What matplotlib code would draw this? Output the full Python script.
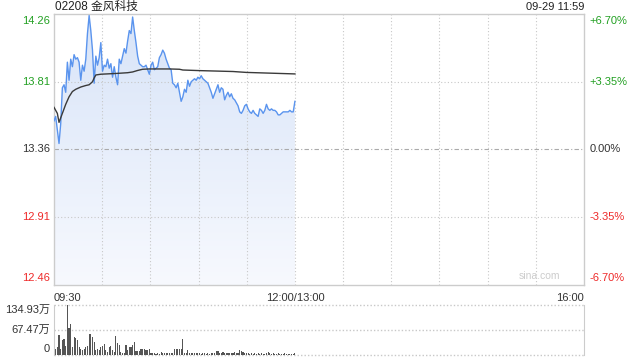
import numpy as np
import matplotlib
matplotlib.use('Agg')
import matplotlib.pyplot as plt

plt.rcParams['font.family'] = ['Liberation Sans', 'Noto Sans CJK SC', 'DejaVu Sans']

# Data
title = '02208 金风科技'
stamp = '09-29 11:59'
prev_close = 13.36
price_ticks = [14.26, 13.81, 13.36, 12.91, 12.46]
pct_labels = ['+6.70%', '+3.35%', '0.00%', '-3.35%', '-6.70%']
time_labels = ['09:30', '12:00/13:00', '16:00']
vol_labels = ['134.93万', '67.47万', '0']
vol_max = 134.93

prices = [
    13.55, 13.58, 13.49, 13.40, 13.53, 13.77, 13.79, 13.74, 13.94, 13.82,
    13.96, 13.91, 13.99, 13.96, 13.97, 13.94, 13.82, 13.92, 13.88, 13.96,
    14.13, 14.25, 14.15, 14.02, 13.80, 13.98, 13.92, 13.97, 14.07, 13.88,
    13.92, 13.91, 13.96, 13.90, 13.93, 13.84, 13.91, 13.84, 13.79, 13.96,
    13.93, 13.98, 14.03, 14.00, 14.08, 14.15, 14.13, 14.24, 14.15, 14.07,
    13.98, 13.93, 13.92, 13.91, 13.91, 13.92, 13.89, 13.86, 13.92, 13.94,
    13.89, 13.90, 13.91, 13.97, 13.99, 14.02, 14.00, 13.96, 13.93, 13.90,
    13.89, 13.80, 13.79, 13.77, 13.80, 13.74, 13.68, 13.71, 13.76, 13.74,
    13.82, 13.78, 13.81, 13.82, 13.83, 13.82, 13.84, 13.83, 13.85, 13.83,
    13.82, 13.81, 13.80, 13.77, 13.74, 13.70, 13.73, 13.76, 13.79, 13.74,
    13.77, 13.76, 13.69, 13.72, 13.74, 13.71, 13.73, 13.70, 13.69, 13.67,
    13.65, 13.61, 13.60, 13.62, 13.65, 13.66, 13.63, 13.61, 13.60, 13.62,
    13.60, 13.59, 13.58, 13.63, 13.62, 13.60, 13.62, 13.66, 13.63, 13.62,
    13.63, 13.62, 13.62, 13.61, 13.59, 13.59, 13.60, 13.61, 13.61, 13.61,
    13.61, 13.62, 13.61, 13.61, 13.68,
]

avg_idx = [0, 2, 3, 5, 7, 9, 11, 13, 16, 19, 21, 23, 24, 25, 28, 37, 44, 47,
           50, 53, 57, 69, 75, 77, 87, 107, 115, 144]
avg_price = [13.64, 13.60, 13.54, 13.60, 13.66, 13.71, 13.745, 13.76, 13.775,
             13.785, 13.79, 13.81, 13.835, 13.855, 13.86, 13.865, 13.87, 13.875,
             13.885, 13.893, 13.895, 13.895, 13.893, 13.888, 13.884, 13.878,
             13.872, 13.862]

volumes = [
    80, 16, 21, 53, 16, 39, 41, 23, 135, 71, 83, 20, 48, 44, 39, 21, 16, 12, 16, 21,
    23, 56, 56, 48, 35, 12, 16, 12, 21, 23, 28, 12, 7, 21, 23, 12, 7, 50, 30, 26,
    7, 5, 3, 26, 12, 21, 21, 25, 33, 10, 10, 10, 14, 14, 14, 12, 12, 14, 5, 3,
    3, 1, 3, 1, 6, 3, 5, 3, 3, 3, 5, 5, 14, 14, 14, 16, 16, 42, 3, 3,
    12, 3, 5, 3, 4, 3, 4, 3, 2, 5, 3, 2, 3, 2, 4, 5, 3, 10, 10, 4,
    3, 7, 4, 5, 3, 4, 3, 3, 7, 3, 4, 13, 10, 7, 4, 4, 3, 2, 3, 2,
    3, 2, 3, 2, 3, 2, 2, 5, 6, 3, 2, 3, 2, 2, 3, 2, 2, 2, 3, 2,
    2, 2, 2, 2, 3,
]

n = len(prices)
minutes = np.linspace(0, 150, n)          # 09:30 .. 12:00, one point per minute
avg_minutes = np.array(avg_idx) * 150 / (n - 1)

green = '#22a022'
red = '#ee2a2a'
grey_txt = '#333333'
grid_c = '#c8c8c8'
colors = [green, green, grey_txt, red, red]

fig = plt.figure(figsize=(6.4, 3.6), dpi=100)
ax = fig.add_axes([54 / 640, 1 - 285 / 360, 530 / 640, 271 / 360])
axv = fig.add_axes([54 / 640, 1 - 354.5 / 360, 530 / 640, 49.5 / 360])

# price panel
for s in ax.spines.values():
    s.set_color('#cccccc')
    s.set_linewidth(1)
ax.set_xticks([])
ax.set_yticks([])

for t in range(30, 330, 30):
    ax.axvline(t, color=grid_c, lw=0.8, ls=(0, (1, 2)), zorder=2)
for p in [price_ticks[1], price_ticks[3]]:
    ax.axhline(p, color=grid_c, lw=0.8, ls=(0, (1, 2)), zorder=2)
ax.axhline(prev_close, color='#aaaaaa', lw=0.8, ls=(0, (4, 2, 1, 2)), zorder=2)

# gradient fill under the price line
poly = ax.fill_between(minutes, prices, price_ticks[-1], color='none', lw=0)
grad = np.linspace(1, 0, 256).reshape(-1, 1)
cmap = matplotlib.colors.LinearSegmentedColormap.from_list('g', ['#f7f9fe', '#d8e4f8'])
img = ax.imshow(grad, cmap=cmap, aspect='auto', origin='upper',
                extent=[0, 150, price_ticks[-1], price_ticks[0]], zorder=1)
img.set_clip_path(poly.get_paths()[0], transform=ax.transData)
ax.set_xlim(0, 330)
ax.set_ylim(price_ticks[-1], price_ticks[0])

ax.plot(minutes, prices, color='#5a94ee', lw=1.0, zorder=3)
ax.plot(avg_minutes, avg_price, color='#3a3a3a', lw=1.0, zorder=4)

ax.text(0.955, 0.015, 'sina.com', transform=ax.transAxes, ha='right', va='bottom',
        color='#cccccc', fontsize=7.5)

ytr = ax.get_yaxis_transform()
for i, (p, lab, c) in enumerate(zip(price_ticks, pct_labels, colors)):
    va = 'top' if i == 0 else ('bottom' if i == len(price_ticks) - 1 else 'center')
    off = -0.015 if i == 0 else (0.015 if i == len(price_ticks) - 1 else 0)
    ax.text(-0.008, p + off, f'{p:.2f}', transform=ytr, ha='right',
            va=va, color=c, fontsize=8)
    ax.text(1.01, p + off, lab, transform=ytr, ha='left',
            va=va, color=c, fontsize=8)

fig.text(55 / 640, 1 - 7 / 360, title, ha='left', va='center', fontsize=8.5, color='#222222')
fig.text(584 / 640, 1 - 7 / 360, stamp, ha='right', va='center', fontsize=8, color='#222222')

ax.text(0, -0.03, time_labels[0], transform=ax.transAxes, ha='left', va='top',
        fontsize=8, color=grey_txt)
ax.text(150 / 330, -0.03, time_labels[1], transform=ax.transAxes, ha='center', va='top',
        fontsize=8, color=grey_txt)
ax.text(1, -0.03, time_labels[2], transform=ax.transAxes, ha='right', va='top',
        fontsize=8, color=grey_txt)

# volume panel
axv.bar(minutes, volumes, width=0.7, color='#555555', lw=0)
axv.set_xlim(0, 330)
axv.set_ylim(0, vol_max)
axv.set_xticks([])
axv.set_yticks([])
for k in ['left', 'right']:
    axv.spines[k].set_color('#cccccc')
for k in ['top', 'bottom']:
    axv.spines[k].set_visible(False)
for v in [vol_max, vol_max / 2, 0]:
    axv.axhline(v, color=grid_c, lw=1.0, ls=(0, (1, 1.5)), zorder=0, clip_on=False)
vtr = axv.get_yaxis_transform()
axv.text(-0.008, vol_max, vol_labels[0], transform=vtr, ha='right',
         va='top', fontsize=8, color=grey_txt)
axv.text(-0.008, vol_max / 2, vol_labels[1], transform=vtr, ha='right',
         va='center', fontsize=8, color=grey_txt)
axv.text(-0.008, 0, vol_labels[2], transform=vtr, ha='right',
         va='bottom', fontsize=8, color=grey_txt)

fig.savefig('out.png', dpi=100)
